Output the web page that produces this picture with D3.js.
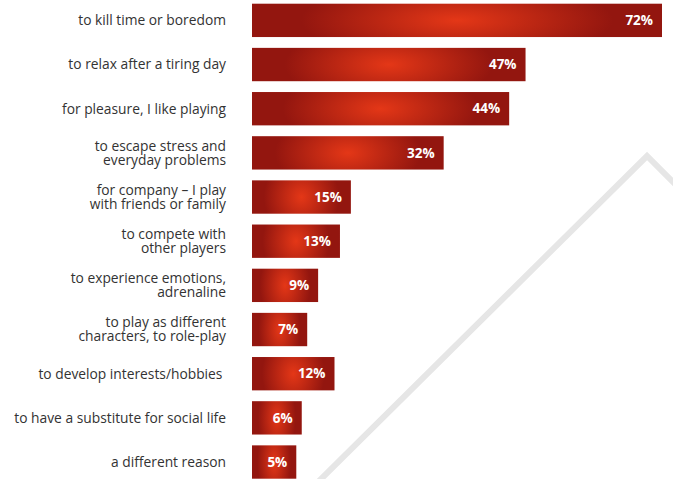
<!DOCTYPE html>
<html><head><meta charset="utf-8">
<script src="https://cdn.jsdelivr.net/npm/d3@7"></script>
<style>
html,body{margin:0;padding:0;background:#fff;}
svg{display:block;}
</style></head>
<body>
<svg id="chart" width="673" height="479"></svg>
<script>
// Data
const categories = [
  ["to kill time or boredom"],
  ["to relax after a tiring day"],
  ["for pleasure, I like playing"],
  ["to escape stress and", "everyday problems"],
  ["for company \u2013 I play", "with friends or family"],
  ["to compete with", "other players"],
  ["to experience emotions,", "adrenaline"],
  ["to play as different", "characters, to role-play"],
  ["to develop interests/hobbies "],
  ["to have a substitute for social life"],
  ["a different reason"]
];
const values = [72, 47, 44, 32, 15, 13, 9, 7, 12, 6, 5];
const valueLabels = ["72%", "47%", "44%", "32%", "15%", "13%", "9%", "7%", "12%", "6%", "5%"];

const W = 673, H = 479;
const left = 252;
const svg = d3.select("#chart");

// gradient
const defs = svg.append("defs");
const grad = defs.append("radialGradient")
  .attr("id", "barGrad")
  .attr("cx", 0.5).attr("cy", 0.5).attr("r", 0.38)
  .attr("gradientTransform", "translate(0.5,0.5) scale(1,3.2) translate(-0.5,-0.5)");
grad.append("stop").attr("offset", "0%").attr("stop-color", "#e43717");
grad.append("stop").attr("offset", "100%").attr("stop-color", "#93160f");

// background chevron decoration
svg.append("path")
  .attr("d", "M318,482 L647,156 L680,189")
  .attr("fill", "none")
  .attr("stroke", "#e6e6e6")
  .attr("stroke-width", 6);

const y = d3.scaleBand()
  .domain(d3.range(categories.length))
  .range([-1.6, 484])
  .paddingInner(0.245)
  .paddingOuter(0.12);

const w = d3.scaleLinear().domain([0, 72]).range([17, 410]);

const rows = svg.append("g").selectAll("g")
  .data(values)
  .join("g")
  .attr("transform", (d, i) => `translate(0,${y(i)})`);

rows.append("rect")
  .attr("x", left)
  .attr("y", 0)
  .attr("width", d => w(d))
  .attr("height", y.bandwidth())
  .attr("fill", "url(#barGrad)");

rows.append("text")
  .attr("x", d => left + w(d) - 9)
  .attr("y", y.bandwidth() / 2)
  .attr("dy", "0.35em")
  .attr("text-anchor", "end")
  .attr("fill", "#fff")
  .attr("font-family", "'Open Sans', sans-serif")
  .attr("font-weight", "bold")
  .attr("font-size", "13.5px")
  .text((d, i) => valueLabels[i]);

const lab = rows.append("text")
  .attr("text-anchor", "end")
  .attr("fill", "#333")
  .attr("font-family", "'Open Sans', sans-serif")
  .attr("font-size", "13.8px")
  .style("white-space", "pre");

lab.each(function(d, i) {
  const lines = categories[i];
  const lh = 14;
  const t = d3.select(this);
  lines.forEach((ln, k) => {
    t.append("tspan")
      .attr("x", 226)
      .attr("y", y.bandwidth() / 2 + (k - (lines.length - 1) / 2) * lh)
      .attr("dy", "0.35em")
      .text(ln);
  });
});
</script>
</body></html>
